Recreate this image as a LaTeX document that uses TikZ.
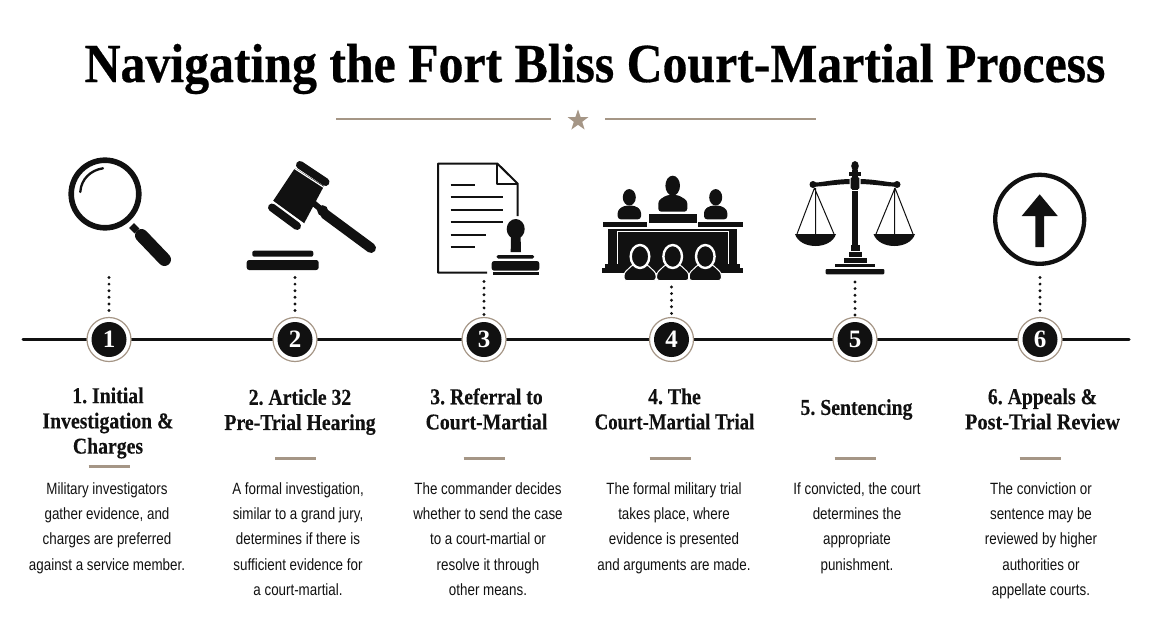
\documentclass[tikz,border=0pt]{standalone}
\usepackage{fontspec}
\setmainfont{Liberation Serif}
\newfontfamily\bodyfont[FakeStretch=0.82]{Liberation Sans}
\newfontfamily\headfont[FakeStretch=0.87,BoldFeatures={FakeBold=0.25}]{Liberation Serif}
\newfontfamily\titlefont[FakeStretch=0.905,BoldFeatures={FakeBold=0.5}]{Liberation Serif}
\definecolor{tan}{HTML}{A59686}
\definecolor{ink}{HTML}{111111}
\tikzset{
  titletext/.style={inner sep=0,anchor=base,font=\titlefont\fontsize{55}{58}\selectfont\bfseries,text=black},
  headtext/.style={inner sep=0,align=center,font=\headfont\fontsize{22.7}{25.2}\selectfont\bfseries,text=ink,anchor=center},
  bodytext/.style={inner sep=0,align=center,font=\bodyfont\fontsize{16.3}{25.2}\selectfont,text=ink,anchor=north},
  stepnum/.style={circle,fill=ink,draw=none,minimum size=35pt,inner sep=0,text=white,font=\fontsize{25}{25}\selectfont\bfseries},
  ringcirc/.style={circle,fill=white,draw=tan,line width=1.2pt,minimum size=44pt,inner sep=0},
  timeline/.style={draw=ink,line width=3pt,line cap=round},
  dots/.style={draw=ink,line width=3.2pt,line cap=round,dash pattern=on 0pt off 6.6pt},
  rulebar/.style={draw=tan,line width=3pt},
  tanrule/.style={draw=tan,line width=2pt},
  icon/.style={fill=ink,draw=none},
  iconline/.style={draw=ink,fill=none}
}
\begin{document}
\frenchspacing
\begin{tikzpicture}[x=1pt,y=-1pt]
\useasboundingbox (0,0) rectangle (1152,640);
\fill[white] (0,0) rectangle (1152,640);
% title
\node[titletext] (title) at (595,82) {Navigating the Fort Bliss Court-Martial Process};
\coordinate (ra) at (336,118.7); \coordinate (rb) at (551,118.7);
\coordinate (rc) at (605,118.7); \coordinate (rd) at (816,118.7);
\draw[tanrule] (ra) -- (rb);
\draw[tanrule] (rc) -- (rd);
\fill[tan] (578,109.5) -- (580.6,117) -- (588.5,117) -- (582.2,121.8) -- (584.6,129.5) -- (578,124.8) -- (571.4,129.5) -- (573.8,121.8) -- (567.5,117) -- (575.4,117) -- cycle;
% timeline
\coordinate (tlstart) at (23,339.5); \coordinate (tlend) at (1129,339.5);
\draw[timeline] (tlstart) -- (tlend);
% dotted connectors and circles
\foreach \n/\x/\t in {1/109/277.5,2/295/277.5,3/484/281.5,4/671.5/287,5/855/282,6/1040/277.5}{
  \node[ringcirc] (r\n) at (\x,339.5) {};
  \node[stepnum] (s\n) at (\x,339.5) {\n};
  \coordinate (d\n) at (\x,\t);
  \draw[dots] (d\n) -- (r\n.north);
}
% Icon 1: magnifier
\draw[iconline,line width=5.6pt] (105,194) circle (33.8);
\draw[iconline,line width=2.3pt,line cap=round] (80.3,192) .. controls (81,179) and (91,170) .. (103,168.3);
\draw[ink,line width=7pt] (131.5,225.5) -- (137,231);
\draw[ink,line width=13pt,line cap=round] (141.5,235.5) -- (164.5,259.5);
% Icon 2: gavel
\fill[icon] (295,168) -- (324,186) -- (304,223.5) -- (273,201) -- cycle;
\draw[ink,line width=8pt,line cap=round] (300,165) -- (325.5,182);
\draw[ink,line width=8pt,line cap=round] (272,207.5) -- (297,226);
\draw[white,line width=1.2pt] (293,167.5) -- (327,189.5);
\draw[white,line width=1.2pt] (271.5,200.5) -- (304,224);
\draw[ink,line width=6pt] (311,201) -- (323,211);
\fill[icon] (322.7,210.7) circle (5.5);
\draw[ink,line width=10pt,line cap=round] (325,214) -- (371,248);
\fill[icon,rounded corners=2pt] (252.3,250.7) rectangle (313.3,256.7);
\fill[icon,rounded corners=2.5pt] (246.7,260) rectangle (318.7,270);
% Icon 3: document and stamp
\draw[iconline,line width=2pt,line join=round] (517.7,216) -- (517.7,183.7) -- (497.3,163.5) -- (438,163.5) -- (438,272.7) -- (487,272.7);
\draw[iconline,line width=2pt,line join=round] (497.3,163.5) -- (497.3,184) -- (517.7,184);
\foreach \y/\xe in {185/475,197.3/503,210/503,222.3/503,235/485.5,247.3/475}{
  \draw[ink,line width=2pt] (450.7,\y) -- (\xe,\y);
}
\fill[icon] (515.7,229) ellipse (9 and 10);
\fill[icon] (511,232) -- (520.5,232) -- (521,252) -- (510.7,252) -- cycle;
\fill[icon,rounded corners=1.5pt] (496.7,255) rectangle (534,258.5);
\fill[icon,rounded corners=2.5pt] (491.7,261) rectangle (539.3,270.7);
\fill[icon] (492.7,272.3) rectangle (538.5,275.3);
% Icon 4: court
\fill[icon] (672.7,185.7) ellipse (7.3 and 10);
\fill[icon] (629.3,197.3) ellipse (6.5 and 8.2);
\fill[icon] (715.7,197.3) ellipse (6.5 and 8.2);
\fill[icon,rounded corners=3pt] (658.3,211.7) -- (658.3,200.5) -- (667,195) -- (678,195) -- (687.3,200.5) -- (687.3,211.7) -- cycle;
\fill[icon,rounded corners=3pt] (617.7,219.3) -- (617.7,210) -- (624,205.7) -- (635,205.7) -- (641,210) -- (641,219.3) -- cycle;
\fill[icon,rounded corners=3pt] (704,219.3) -- (704,210) -- (710,205.7) -- (721,205.7) -- (727.3,210) -- (727.3,219.3) -- cycle;
\fill[icon] (649.3,214) rectangle (696.7,223.3);
\fill[icon] (603.3,221.7) rectangle (646.7,226.7);
\fill[icon] (698.3,221.7) rectangle (742.7,226.7);
\fill[icon] (608.3,228.5) rectangle (736.7,266);
\draw[white,line width=1pt] (617.3,266) -- (617.3,231) -- (728.3,231) -- (728.3,266);
\fill[icon] (605,264) rectangle (740,270);
\fill[icon] (601.7,268.3) rectangle (743.3,273.3);
\foreach \c in {640,672.7,705.3}{
  \fill[icon,draw=white,line width=1pt,rounded corners=2.5pt] (\c-16,280.5) -- (\c-16,273) -- (\c-7,264.5) -- (\c+7,264.5) -- (\c+16,273) -- (\c+16,280.5) -- cycle;
  \fill[icon,draw=white,line width=2.4pt] (\c,256.5) ellipse (9.3 and 11.5);
}
% Icon 5: scales
\fill[icon] (851.7,170) rectangle (858.3,248);
\fill[icon] (855,166) ellipse (3.8 and 5);
\fill[icon] (849.3,171.7) rectangle (861,175.7);
\fill[icon,rounded corners=1pt] (850.7,177.3) rectangle (859.3,189);
\draw[white,line width=1pt] (851,190.5) -- (859,190.5);
\fill[icon] (849.5,179) .. controls (832,179.5) and (820,183) .. (813,182.5) -- (813,186.5) .. controls (822,187) and (832,184.5) .. (849.5,184) -- cycle;
\fill[icon] (860.5,179) .. controls (878,179.5) and (890,183) .. (897,182.5) -- (897,186.5) .. controls (888,187) and (878,184.5) .. (860.5,184) -- cycle;
\fill[icon] (813,184.5) circle (3.5);
\fill[icon] (897,184.5) circle (3.5);
\draw[ink,line width=1pt] (814.5,188) -- (797,234) (814.5,188) -- (834,234) (815.5,188) -- (815.5,234);
\draw[ink,line width=1pt] (895,188) -- (876,234) (895,188) -- (913,234) (894.5,188) -- (894.5,234);
\fill[icon] (795,234) .. controls (800,250) and (831,250) .. (836,234) -- cycle;
\fill[icon] (873.5,234) .. controls (879,250) and (910,250) .. (915,234) -- cycle;
\fill[icon] (850.5,245) rectangle (860,250.7);
\fill[icon] (848.5,252) rectangle (861.5,256.5);
\fill[icon] (844,258) rectangle (866.5,262.5);
\fill[icon] (835,264) rectangle (875,267.3);
\fill[icon,rounded corners=1pt] (825.7,269) rectangle (884.3,274.3);
% Icon 6: arrow circle
\draw[iconline,line width=4.3pt] (1039.7,219.3) circle (44.5);
\fill[icon] (1039.7,194.3) -- (1057.7,216) -- (1044,216) -- (1044,247) -- (1035.3,247) -- (1035.3,216) -- (1021.7,216) -- cycle;
% headings
\node[headtext] (h1) at (108,423) {1. Initial\\Investigation \&\\Charges};
\node[headtext] (h2) at (300,412) {2. Article 32\\Pre-Trial Hearing};
\node[headtext] (h3) at (486.5,409) {3. Referral to\\Court-Martial};
\node[headtext] (h4) at (674.5,409) {4. The\\\scalebox{.95}[1]{Court-Martial Trial}};
\node[headtext] (h5) at (856.5,409.5) {5. Sentencing};
\node[headtext] (h6) at (1042.5,409) {6. Appeals \&\\\scalebox{1.03}[1]{Post-Trial Review}};
% rules under headings
\foreach \n/\x/\y in {1/109/466,2/295.5/458,3/484/458,4/670/458,5/855/458,6/1040/458}{
  \coordinate (ba\n) at (\x-20.5,\y); \coordinate (bb\n) at (\x+20.5,\y);
  \draw[rulebar] (ba\n) -- (bb\n);
}
% body
\node[bodytext] (b1) at (107,482.5) {Military investigators\\gather evidence, and\\charges are preferred\\against a service member.};
\node[bodytext] (b2) at (298,482.5) {A formal investigation,\\similar to a grand jury,\\determines if there is\\sufficient evidence for\\a court-martial.};
\node[bodytext] (b3) at (488,482.5) {The commander decides\\whether to send the case\\to a court-martial or\\resolve it through\\other means.};
\node[bodytext] (b4) at (674,482.5) {The formal military trial\\takes place, where\\evidence is presented\\and arguments are made.};
\node[bodytext] (b5) at (857,482.5) {If convicted, the court\\determines the\\appropriate\\punishment.};
\node[bodytext] (b6) at (1041,482.5) {The conviction or\\sentence may be\\reviewed by higher\\authorities or\\appellate courts.};
\end{tikzpicture}
\end{document}
